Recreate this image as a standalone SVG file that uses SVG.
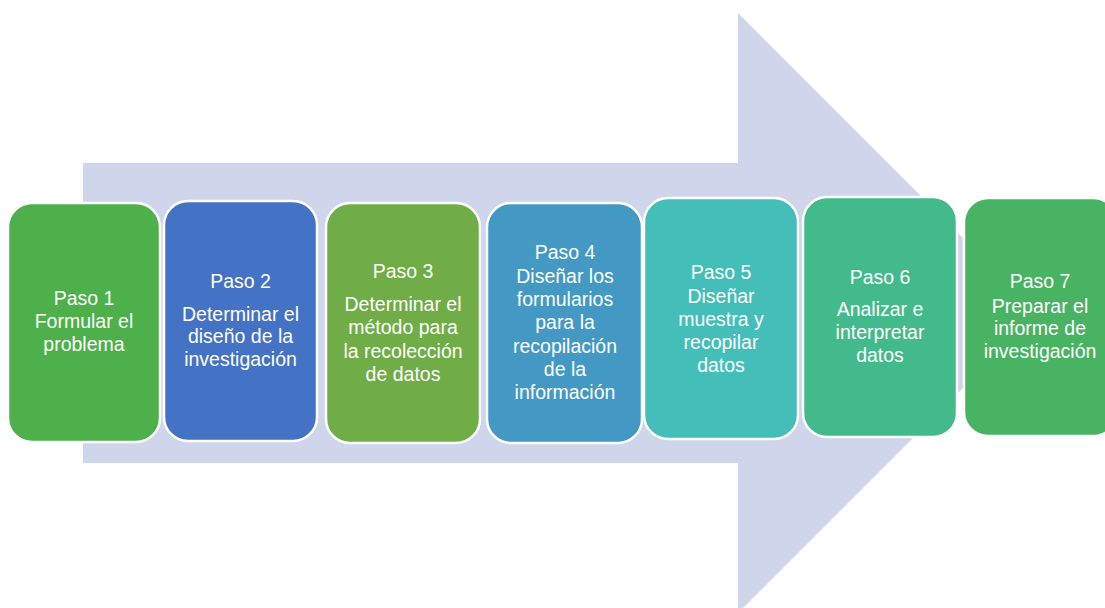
<svg xmlns="http://www.w3.org/2000/svg" width="1105" height="608" viewBox="0 0 1105 608">
<style>
.box{stroke:#FFFFFF;stroke-width:2.5}
.t{font-family:"Liberation Sans",Arial,sans-serif;font-size:19.5px;fill:#FFFFFF;text-anchor:middle}
</style>
<rect width="1105" height="608" fill="#FFFFFF"/>
<g id="connectors">
<polygon id="big-arrow" points="83,163 738,163 738,13 1038,313 738,613 738,463 83,463" fill="#CFD5EA"/>
</g>
<g id="step1">
<rect class="box" x="8" y="203" width="152" height="239" rx="24" fill="#4DB04A"/>
<text class="t" x="84"><tspan x="84" y="305">Paso 1</tspan><tspan x="84" y="328">Formular el</tspan><tspan x="84" y="351">problema</tspan></text>
</g>
<g id="step2">
<rect class="box" x="164" y="201" width="153" height="240" rx="24" fill="#4472C4"/>
<text class="t"><tspan x="240.5" y="288">Paso 2</tspan><tspan x="240.5" y="321">Determinar el</tspan><tspan x="240.5" y="343">diseño de la</tspan><tspan x="240.5" y="366">investigación</tspan></text>
</g>
<g id="step3">
<rect class="box" x="326" y="203" width="154" height="240" rx="24" fill="#70AD47"/>
<text class="t"><tspan x="403" y="278">Paso 3</tspan><tspan x="403" y="311">Determinar el</tspan><tspan x="403" y="334">método para</tspan><tspan x="403" y="358">la recolección</tspan><tspan x="403" y="381">de datos</tspan></text>
</g>
<g id="step4">
<rect class="box" x="487" y="203" width="155" height="240" rx="24" fill="#4399C3"/>
<text class="t"><tspan x="565" y="259">Paso 4</tspan><tspan x="565" y="283">Diseñar los</tspan><tspan x="565" y="306">formularios</tspan><tspan x="565" y="329">para la</tspan><tspan x="565" y="353">recopilación</tspan><tspan x="565" y="376">de la</tspan><tspan x="565" y="399">información</tspan></text>
</g>
<g id="step5">
<rect class="box" x="644" y="198" width="154" height="241" rx="24" fill="#43BEB8"/>
<text class="t"><tspan x="721" y="279">Paso 5</tspan><tspan x="721" y="303">Diseñar</tspan><tspan x="721" y="326">muestra y</tspan><tspan x="721" y="349">recopilar</tspan><tspan x="721" y="372">datos</tspan></text>
</g>
<g id="step6">
<rect class="box" x="803" y="197" width="154" height="240" rx="24" fill="#43BA8C"/>
<text class="t"><tspan x="880" y="284">Paso 6</tspan><tspan x="880" y="316">Analizar e</tspan><tspan x="880" y="339">interpretar</tspan><tspan x="880" y="362">datos</tspan></text>
</g>
<g id="step7">
<rect class="box" x="964" y="198" width="153" height="238" rx="24" fill="#48B463"/>
<text class="t"><tspan x="1040" y="288">Paso 7</tspan><tspan x="1040" y="313">Preparar el</tspan><tspan x="1040" y="335">informe de</tspan><tspan x="1040" y="358">investigación</tspan></text>
</g>
</svg>
